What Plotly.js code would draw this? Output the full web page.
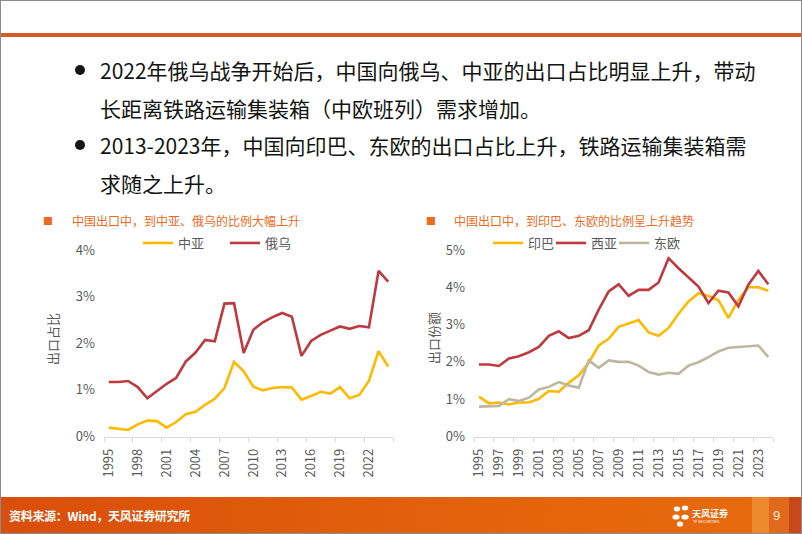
<!DOCTYPE html>
<html><head><meta charset="utf-8">
<script src="https://cdn.plot.ly/plotly-3.0.1.min.js"></script>
<style>
html,body{margin:0;padding:0;background:#fff;}
#slide{position:relative;width:802px;height:534px;overflow:hidden;background:#fff;font-family:"Noto Sans CJK SC",sans-serif;}
#chart{position:absolute;left:0;top:0;width:802px;height:534px;}
.border{position:absolute;left:0;top:0;width:800px;height:532px;border:1px solid #8c8c8c;pointer-events:none;z-index:5;}
.topline{position:absolute;left:1px;top:33px;width:800px;height:4px;background:#D75A24;}
.bl{position:absolute;left:100px;font-size:21px;line-height:1;color:#141414;white-space:nowrap;transform:translateY(-50%);}
.dot{position:absolute;width:10px;height:10px;border-radius:50%;background:#141414;left:75px;}
.footer{position:absolute;left:1px;top:497px;width:800px;height:36px;background:linear-gradient(to right,#D94E0C,#E2600C 50%,#E86C0E);}
.ftext{position:absolute;left:8px;top:18px;transform:translateY(-50%);color:#fff;font-weight:bold;font-size:12px;letter-spacing:-0.3px;white-space:nowrap;}
.sq1{position:absolute;left:751px;top:0;width:17px;height:36px;background:#EE8A2E;}
.sq2{position:absolute;left:768px;top:0;width:20px;height:36px;background:#E2681C;}
.sq3{position:absolute;left:788px;top:0;width:12px;height:36px;background:#C9481A;}
.pnum{position:absolute;left:772px;top:18px;transform:translateY(-50%);color:#fde8d8;font-size:13px;font-family:"Liberation Sans",sans-serif;}
.logo{position:absolute;left:671px;top:503px;}
</style>
</head>
<body>
<div id="slide">
  <div id="chart"></div>
  <div class="topline"></div>
  <div class="dot" style="top:65px"></div>
  <div class="bl" style="top:70px">2022年俄乌战争开始后，中国向俄乌、中亚的出口占比明显上升，带动</div>
  <div class="bl" style="top:108px">长距离铁路运输集装箱（中欧班列）需求增加。</div>
  <div class="dot" style="top:140px"></div>
  <div class="bl" style="top:145px">2013-2023年，中国向印巴、东欧的出口占比上升，铁路运输集装箱需</div>
  <div class="bl" style="top:183px">求随之上升。</div>
  <div class="footer">
    <div class="ftext">资料来源：Wind，天风证券研究所</div>
    <div class="sq1"></div><div class="sq2"></div><div class="sq3"></div>
    <div class="pnum">9</div>
  </div>
  <svg class="logo" width="70" height="26" viewBox="0 0 70 26">
    <ellipse cx="6" cy="6" rx="3.2" ry="2.4" fill="#fff"/>
    <ellipse cx="14" cy="5" rx="3.2" ry="2.4" fill="#fff"/>
    <ellipse cx="5" cy="14" rx="3.6" ry="2.6" fill="#fff"/>
    <ellipse cx="14" cy="14" rx="3.6" ry="2.6" fill="#fff"/>
    <ellipse cx="9" cy="21" rx="3.2" ry="2.6" fill="#fff"/>
    <text x="21" y="14" fill="#fff" font-size="9" font-weight="bold" font-family="Noto Sans CJK SC">天风证券</text>
    <text x="22" y="20" fill="#fff" font-size="3.5" font-family="Liberation Sans">TF SECURITIES</text>
  </svg>
  <div class="border"></div>
</div>
<script>
// ---- data ----
const years = [1995,1996,1997,1998,1999,2000,2001,2002,2003,2004,2005,2006,2007,2008,2009,
               2010,2011,2012,2013,2014,2015,2016,2017,2018,2019,2020,2021,2022,2023,2024];

// left chart: share of China's exports (%)
const centralAsia = [0.19,0.16,0.14,0.26,0.34,0.33,0.19,0.31,0.48,0.53,0.68,0.81,1.04,1.60,1.40,
                     1.07,0.99,1.04,1.06,1.05,0.79,0.87,0.96,0.92,1.06,0.82,0.89,1.19,1.83,1.50];
const russiaUkraine = [1.17,1.17,1.19,1.06,0.82,0.98,1.13,1.26,1.61,1.80,2.07,2.04,2.85,2.86,1.79,
                       2.29,2.45,2.56,2.65,2.57,1.73,2.05,2.18,2.27,2.36,2.31,2.37,2.34,3.55,3.32];

// right chart: export share (%)
const indiaPakistan = [1.07,0.89,0.91,0.86,0.91,0.91,1.01,1.22,1.20,1.44,1.64,1.98,2.44,2.62,2.94,
                       3.04,3.12,2.79,2.70,2.91,3.29,3.62,3.84,3.77,3.65,3.18,3.66,4.00,4.00,3.91];
const westAsia = [1.93,1.93,1.89,2.09,2.15,2.26,2.40,2.70,2.82,2.64,2.70,2.85,3.40,3.89,4.08,
                  3.77,3.93,3.93,4.13,4.78,4.51,4.26,4.02,3.58,3.91,3.86,3.49,4.07,4.44,4.08];
const easternEurope = [0.80,0.80,0.82,1.00,0.95,1.04,1.26,1.33,1.46,1.37,1.31,2.04,1.84,2.04,2.00,
                       2.00,1.90,1.73,1.66,1.71,1.68,1.90,1.99,2.13,2.28,2.38,2.40,2.42,2.44,2.13];

// tick labels
const leftTickYears = [1995,1998,2001,2004,2007,2010,2013,2016,2019,2022];
const rightTickYears = [1995,1997,1999,2001,2003,2005,2007,2009,2011,2013,2015,2017,2019,2021,2023];
const leftYTicks = [0,1,2,3,4];
const rightYTicks = [0,1,2,3,4,5];

const leftTitle = '中国出口中，到中亚、俄乌的比例大幅上升';
const rightTitle = '中国出口中，到印巴、东欧的比例呈上升趋势';
const leftYTitle = '出口占比';
const rightYTitle = '出口份额';

// ---- styles ----
const W = 802, H = 534;
const px = x => x / W;
const py = y => (H - y) / H;
const FONT = '"Noto Sans CJK SC", sans-serif';
const GRAY = '#595959';
const YELLOW = '#FFB900', RED = '#BE3A40', TAN = '#BDB7A1';
const ORANGE = '#EE6A1E';

function line(name, x, y, color, xa, ya, legend, lw) {
  return {type:'scatter', mode:'lines', name, x, y, xaxis:xa, yaxis:ya, legend,
          legendwidth:lw, line:{color, width:2.6}, hoverinfo:'skip'};
}

const traces = [
  line('中亚', years, centralAsia, YELLOW, 'x', 'y', 'legend', 42),
  line('俄乌', years, russiaUkraine, RED, 'x', 'y', 'legend', 42),
  line('印巴', years, indiaPakistan, YELLOW, 'x2', 'y2', 'legend2', 18),
  line('西亚', years, westAsia, RED, 'x2', 'y2', 'legend2', 18),
  line('东欧', years, easternEurope, TAN, 'x2', 'y2', 'legend2', 34)
];

function xAxis(domain, anchor, tickYears, step) {
  return {
    domain, anchor, range:[1994.5, 2024.5], type:'linear',
    tickmode:'array', tickvals:tickYears, ticktext:tickYears.map(String),
    tickangle:-90, ticks:'', ticklabelstandoff:6,
    tickfont:{size:13, color:GRAY, family:FONT},
    showgrid:false, zeroline:false, showline:true, linecolor:'#D9D9D9', linewidth:1,
    minor:{tick0:1994.5, dtick:step, ticks:'outside', ticklen:4, tickcolor:'#D9D9D9', tickwidth:1, showgrid:false},
    fixedrange:true
  };
}
function yAxis(domain, anchor, range, tickvals) {
  return {
    domain, anchor, range, tickmode:'array', tickvals, ticktext:tickvals.map(v => v + '%'),
    ticks:'', ticklabelstandoff:8, tickfont:{size:13, color:GRAY, family:FONT},
    showgrid:false, zeroline:false, showline:false, fixedrange:true
  };
}

const yDom = [py(436.5), py(250)];
const layout = {
  width:W, height:H, margin:{l:0, r:0, t:0, b:0},
  paper_bgcolor:'rgba(0,0,0,0)', plot_bgcolor:'rgba(0,0,0,0)',
  font:{family:FONT, color:GRAY},
  showlegend:true,
  xaxis: xAxis([px(104), px(393)], 'y', leftTickYears, 3),
  yaxis: yAxis(yDom, 'x', [0, 4], leftYTicks),
  xaxis2: xAxis([px(474), px(773.3)], 'y2', rightTickYears, 2),
  yaxis2: yAxis(yDom, 'x2', [0, 5], rightYTicks),
  legend:{x:px(138), y:py(243), xanchor:'left', yanchor:'middle', orientation:'h',
          font:{size:13, color:GRAY, family:FONT}, bgcolor:'rgba(0,0,0,0)',
          entrywidthmode:'pixels', traceorder:'normal'},
  legend2:{x:px(488), y:py(243), xanchor:'left', yanchor:'middle', orientation:'h',
          font:{size:13, color:GRAY, family:FONT}, bgcolor:'rgba(0,0,0,0)',
          entrywidthmode:'pixels', traceorder:'normal'},
  annotations:[
    {xref:'paper', yref:'paper', x:px(48), y:py(220), text:'■', showarrow:false,
     xanchor:'center', yanchor:'middle', font:{size:10, color:ORANGE}},
    {xref:'paper', yref:'paper', x:px(70), y:py(220), text:leftTitle, showarrow:false,
     xanchor:'left', yanchor:'middle', font:{size:12, color:ORANGE, family:FONT}},
    {xref:'paper', yref:'paper', x:px(431), y:py(220), text:'■', showarrow:false,
     xanchor:'center', yanchor:'middle', font:{size:10, color:ORANGE}},
    {xref:'paper', yref:'paper', x:px(452), y:py(220), text:rightTitle, showarrow:false,
     xanchor:'left', yanchor:'middle', font:{size:12, color:ORANGE, family:FONT}},
    {xref:'paper', yref:'paper', x:px(52), y:py(339), text:leftYTitle, showarrow:false,
     textangle:-90, xanchor:'center', yanchor:'middle', font:{size:13, color:GRAY, family:FONT}},
    {xref:'paper', yref:'paper', x:px(433), y:py(338), text:rightYTitle, showarrow:false,
     textangle:-90, xanchor:'center', yanchor:'middle', font:{size:13, color:GRAY, family:FONT}}
  ]
};

Plotly.newPlot('chart', traces, layout, {staticPlot:true, displayModeBar:false});
</script>
</body></html>
